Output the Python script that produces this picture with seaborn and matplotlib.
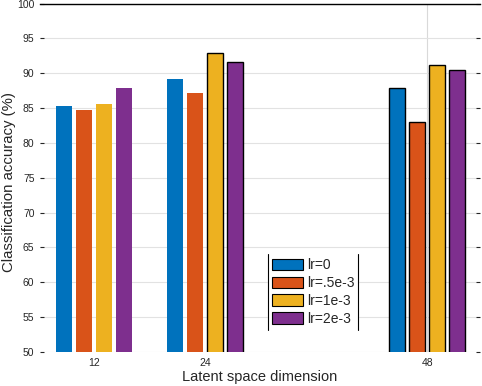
import pandas as pd
import seaborn as sns
import matplotlib.pyplot as plt
from matplotlib.patches import Patch
from matplotlib.lines import Line2D

# data
dims = [12, 24, 48]
lr_labels = ['lr=0', 'lr=.5e-3', 'lr=1e-3', 'lr=2e-3']
acc_lr0 = [85.3, 89.2, 87.9]
acc_lr05 = [84.7, 87.2, 83.0]
acc_lr1 = [85.6, 92.9, 91.2]
acc_lr2 = [87.9, 91.6, 90.4]
colors = ['#0072BD', '#D95319', '#EDB120', '#7E2F8E']

rows = []
for lab, vals in zip(lr_labels, [acc_lr0, acc_lr05, acc_lr1, acc_lr2]):
    for d, v in zip(dims, vals):
        rows.append({'dim': d, 'lr': lab, 'acc': v})
df = pd.DataFrame(rows)

# bars that show a black outline in the reference
edged = {(24, 'lr=1e-3'), (24, 'lr=2e-3'),
         (48, 'lr=0'), (48, 'lr=.5e-3'), (48, 'lr=1e-3'), (48, 'lr=2e-3')}

sns.set_style('white')
plt.rcParams['font.family'] = ['Liberation Sans', 'DejaVu Sans']

fig = plt.figure(figsize=(4.82, 3.86), dpi=100)
ax = fig.add_axes([40 / 482, 34 / 386, 440 / 482, 348.5 / 386])

sns.barplot(data=df, x='dim', y='acc', hue='lr', hue_order=lr_labels,
            palette=colors, native_scale=True, width=0.72, gap=0.2,
            errorbar=None, legend=False, saturation=1, ax=ax)

for container, lab in zip(ax.containers, lr_labels):
    for bar in container:
        cx = bar.get_x() + bar.get_width() / 2
        d = min(dims, key=lambda v: abs(v - cx))
        if (d, lab) in edged:
            bar.set_edgecolor('black')
            bar.set_linewidth(1.0)
        else:
            bar.set_linewidth(0)

ax.set_xlim(6.2, 53.7)
ax.set_ylim(50, 100)
ax.set_yticks(range(50, 101, 5))
ax.set_xticks(dims)
ax.set_xticks([48], minor=True)
ax.yaxis.grid(True, color='#e2e2e2', linewidth=0.8)
ax.set_axisbelow(True)
ax.axvline(48, color='#d9d9d9', linewidth=0.8, zorder=0.5)

ax.tick_params(axis='y', direction='in', length=3, left=True, right=True,
               color='#262626', labelsize=7.5, labelcolor='#262626', pad=4)
ax.tick_params(axis='x', which='major', length=0, labelsize=7.5,
               labelcolor='#262626', pad=4)
ax.tick_params(axis='x', which='minor', direction='in', length=3,
               top=True, bottom=True, color='black')

for side in ['left', 'right', 'bottom']:
    ax.spines[side].set_visible(False)
ax.spines['top'].set_color('black')
ax.spines['top'].set_linewidth(1.0)

ax.set_xlabel('Latent space dimension', fontsize=10.5, color='#262626')
ax.set_ylabel('Classification accuracy (%)', fontsize=10.8, color='#262626')
ax.xaxis.set_label_coords(0.5, -0.051)
ax.yaxis.set_label_coords(-0.0545, 0.489)

handles = [Patch(facecolor=c, edgecolor='black', linewidth=0.8, label=l)
           for c, l in zip(colors, lr_labels)]
leg = ax.legend(handles=handles, loc='lower left', bbox_to_anchor=(0.518, 0.063),
                frameon=True, fancybox=False, edgecolor='white', framealpha=1,
                fontsize=10, handlelength=2.2, handleheight=0.9, labelspacing=0.28,
                handletextpad=0.3, borderpad=0.3, borderaxespad=0)

# only the side edges of the legend box are visible in the reference
fig.canvas.draw()
bb = leg.get_window_extent().transformed(fig.transFigure.inverted())
for xe in [bb.x0, bb.x1]:
    fig.add_artist(Line2D([xe, xe], [bb.y0, bb.y1], color='black', linewidth=0.8))

fig.savefig('out.png', dpi=100)
